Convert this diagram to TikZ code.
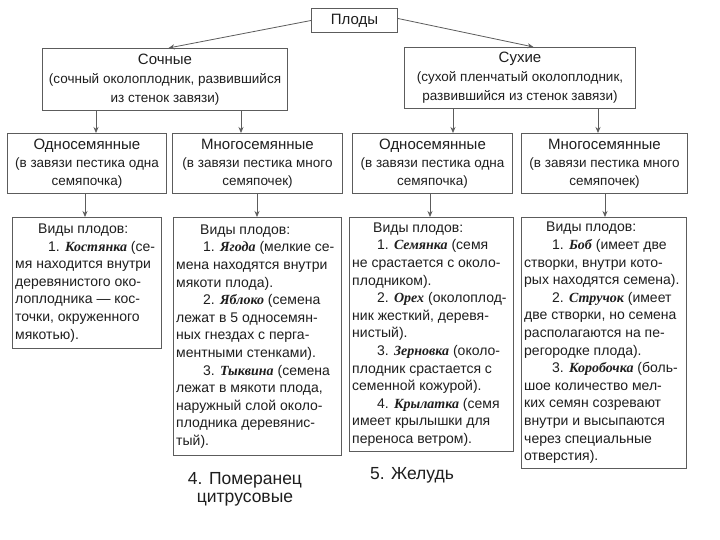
\documentclass[tikz,border=0pt]{standalone}
\usepackage{fontspec}
\setmainfont{Liberation Sans}
\newfontfamily\frfont{Liberation Serif}
\usetikzlibrary{arrows.meta}
\definecolor{boxgray}{HTML}{5C5C5C}
\definecolor{txt}{HTML}{1E1E1E}
\newcommand{\fr}[1]{{\frfont\bfseries\itshape #1}}
\tikzset{
  box/.style={draw=boxgray, line width=1pt, inner sep=0pt, anchor=north west, text=txt, align=center},
  arr/.style={draw=boxgray, line width=0.8pt, -{Stealth[length=6pt,width=5pt]}},
  lone/.style={font=\fontsize{13.5}{19}\selectfont},
  ltwo/.style={font=\fontsize{13.5}{18}\selectfont},
  vtext/.style={anchor=west, align=left, inner sep=0pt, text=txt, font=\fontsize{14}{17.6}\selectfont},
  foot/.style={text=txt, align=center, inner sep=0pt, font=\fontsize{17.5}{18}\selectfont}
}
\newcommand{\ttlf}[1]{{\fontsize{15}{18}\selectfont #1}}
\begin{document}
\begin{tikzpicture}[x=1pt,y=-1pt]
\useasboundingbox (0,0) rectangle (720,540);
\fill[white] (0,0) rectangle (720,540);

% top
\node[box, font=\fontsize{15}{18}\selectfont, minimum width=86, minimum height=24] (plody) at (311,8) {Плоды};

% level 1
\node[box, lone, minimum width=245, minimum height=62] (soch) at (42,48)
  {\ttlf{Сочные}\\ (сочный околоплодник, развившийся\\ из стенок завязи)};
\node[box, lone, minimum width=231, minimum height=61] (suh) at (404,47)
  {\ttlf{Сухие}\\ (сухой пленчатый околоплодник,\\ развившийся из стенок завязи)};

% level 2
\node[box, ltwo, minimum width=159, minimum height=60] (oa) at (7,133)
  {\ttlf{Односемянные}\\ (в завязи пестика одна\\ семяпочка)};
\node[box, ltwo, minimum width=170, minimum height=60] (ma) at (172,133)
  {\ttlf{Многосемянные}\\ (в завязи пестика много\\ семяпочек)};
\node[box, ltwo, minimum width=160, minimum height=60] (ob) at (352,133)
  {\ttlf{Односемянные}\\ (в завязи пестика одна\\ семяпочка)};
\node[box, ltwo, minimum width=166, minimum height=60] (mb) at (521,133)
  {\ttlf{Многосемянные}\\ (в завязи пестика много\\ семяпочек)};

% level 3 boxes
\node[box, minimum width=149, minimum height=131] (va) at (12,217) {};
\node[box, minimum width=168, minimum height=238] (vb) at (173,217) {};
\node[box, minimum width=164, minimum height=234] (vc) at (349,217) {};
\node[box, minimum width=165, minimum height=251] (vd) at (521,217) {};

\node[vtext] (vat) at ([xshift=3pt]va.west) {%
\hspace*{23pt}Виды плодов:\\
\hspace*{33pt}1. \fr{Костянка} (се-\\
мя находится внутри\\
деревянистого око-\\
лоплодника — кос-\\
точки, окруженного\\
мякотью).};

\node[vtext] (vbt) at ([xshift=3pt]vb.west) {%
\hspace*{24pt}Виды плодов:\\
\hspace*{27pt}1. \fr{Ягода} (мелкие се-\\
мена находятся внутри\\
мякоти плода).\\
\hspace*{27pt}2. \fr{Яблоко} (семена\\
лежат в 5 односемян-\\
ных гнездах с перга-\\
ментными стенками).\\
\hspace*{27pt}3. \fr{Тыквина} (семена\\
лежат в мякоти плода,\\
наружный слой около-\\
плодника деревянис-\\
тый).};

\node[vtext] (vct) at ([xshift=3pt]vc.west) {%
\hspace*{21pt}Виды плодов:\\
\hspace*{25pt}1. \fr{Семянка} (семя\\
не срастается с около-\\
плодником).\\
\hspace*{25pt}2. \fr{Орех} (околоплод-\\
ник жесткий, деревя-\\
нистый).\\
\hspace*{25pt}3. \fr{Зерновка} (около-\\
плодник срастается с\\
семенной кожурой).\\
\hspace*{25pt}4. \fr{Крылатка} (семя\\
имеет крылышки для\\
переноса ветром).};

\node[vtext] (vdt) at ([xshift=3pt]vd.west) {%
\hspace*{22pt}Виды плодов:\\
\hspace*{28pt}1. \fr{Боб} (имеет две\\
створки, внутри кото-\\
рых находятся семена).\\
\hspace*{28pt}2. \fr{Стручок} (имеет\\
две створки, но семена\\
располагаются на пе-\\
регородке плода).\\
\hspace*{28pt}3. \fr{Коробочка} (боль-\\
шое количество мел-\\
ких семян созревают\\
внутри и высыпаются\\
через специальные\\
отверстия).};

% footnotes
\node[foot] (pom) at (245,489) {4. Померанец\\цитрусовые};
\node[foot] (zhel) at (412,475) {5. Желудь};

% connectors
\coordinate (x1) at (96,0);
\coordinate (x2) at (241,0);
\coordinate (x3) at (453,0);
\coordinate (x4) at (598,0);
\coordinate (y1) at (85,0);
\coordinate (y2) at (257,0);
\coordinate (y3) at (430,0);
\coordinate (y4) at (605,0);

\draw[arr] (plody.west) -- ([xshift=3.5pt]soch.north);
\draw[arr] ([yshift=2pt]plody.east) -- ([xshift=13.5pt]suh.north);

\draw[arr] (soch.south -| x1) -- (oa.north -| x1);
\draw[arr] (soch.south -| x2) -- (ma.north -| x2);
\draw[arr] (suh.south -| x3) -- (ob.north -| x3);
\draw[arr] (suh.south -| x4) -- (mb.north -| x4);

\draw[arr] (oa.south -| y1) -- (va.north -| y1);
\draw[arr] (ma.south -| y2) -- (vb.north -| y2);
\draw[arr] (ob.south -| y3) -- (vc.north -| y3);
\draw[arr] (mb.south -| y4) -- (vd.north -| y4);
\end{tikzpicture}
\end{document}
